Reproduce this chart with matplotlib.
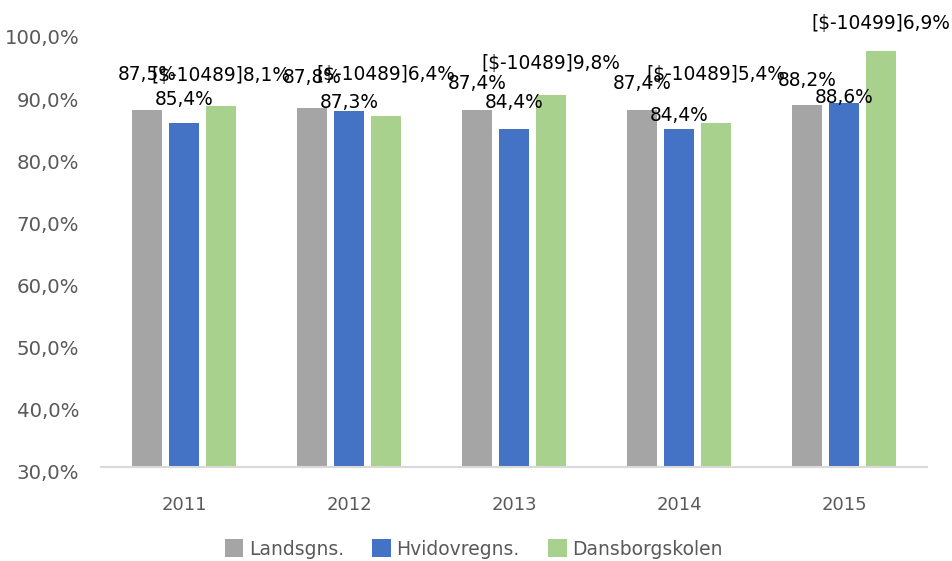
import numpy as np
import matplotlib.pyplot as plt
import matplotlib.transforms as mtrans
from matplotlib.ticker import FuncFormatter

years = ["2011", "2012", "2013", "2014", "2015"]
series_names = ["Landsgns.", "Hvidovregns.", "Dansborgskolen"]
landsgns = [87.5, 87.8, 87.4, 87.4, 88.2]
hvidovre = [85.4, 87.3, 84.4, 84.4, 88.6]
dansborg = [88.1, 86.4, 89.8, 85.4, 96.9]
labels_l = ["87,5%", "87,8%", "87,4%", "87,4%", "88,2%"]
labels_h = ["85,4%", "87,3%", "84,4%", "84,4%", "88,6%"]
labels_d = ["[$-10489]8,1%", "[$-10489]6,4%", "[$-10489]9,8%", "[$-10489]5,4%", "[$-10499]6,9%"]

# how far each label centre sits above its bar top, in points (hand placed in the original)
lift_l = [25, 22, 19, 19, 18]
lift_h = [17, 6, 19, 10, 4]
lift_d = [22, 30, 23, 35, 20]

colors = ["#A5A5A5", "#4472C4", "#A9D18E"]
plt.rcParams['font.family'] = ['DejaVu Sans']

fig = plt.figure(figsize=(9.53, 5.61), dpi=100)
ax = fig.add_axes([0.1065, 0.1676, 0.8657, 0.7754])

x = np.arange(len(years))
w = 0.182
off = 0.224
data = [landsgns, hvidovre, dansborg]
labs = [labels_l, labels_h, labels_d]
lifts = [lift_l, lift_h, lift_d]
for i in range(3):
    xs = x + (i - 1) * off
    ax.bar(xs, np.array(data[i]) - 30, bottom=30, width=w, color=colors[i],
           label=series_names[i], zorder=2)
    for k in range(len(years)):
        ax.annotate(labs[i][k], (xs[k], data[i][k]), xytext=(0, lifts[i][k]),
                    textcoords="offset points", ha="center", va="center",
                    fontsize=13.4, color="black", annotation_clip=False, zorder=5)

ax.set_xlim(-0.5, len(years) - 0.5)
ax.set_ylim(30, 100)
ax.set_yticks(np.arange(30, 101, 10))
ax.yaxis.set_major_formatter(FuncFormatter(lambda v, p: ("%.1f%%" % v).replace(".", ",")))
ax.set_xticks(x)
ax.set_xticklabels(years)
ax.tick_params(axis="both", length=0, labelcolor="#595959")
ax.tick_params(axis="y", labelsize=14.2, pad=16)
ax.tick_params(axis="x", labelsize=13, pad=21)
# Excel draws the value labels a little below their gridline positions
shift = mtrans.ScaledTranslation(0, -5 / 100, fig.dpi_scale_trans)
for t in ax.get_yticklabels():
    t.set_transform(t.get_transform() + shift)
for s in ["top", "right", "left"]:
    ax.spines[s].set_visible(False)
ax.spines["bottom"].set_color("#D9D9D9")
ax.spines["bottom"].set_linewidth(1.5)

leg = fig.legend(loc="center", bbox_to_anchor=(0.497, 0.0214), ncol=3, frameon=False,
                 fontsize=13.5, handlelength=1.0, handleheight=1.1, columnspacing=1.5,
                 handletextpad=0.3)
for t in leg.get_texts():
    t.set_color("#595959")

fig.savefig("out.png", dpi=100)
